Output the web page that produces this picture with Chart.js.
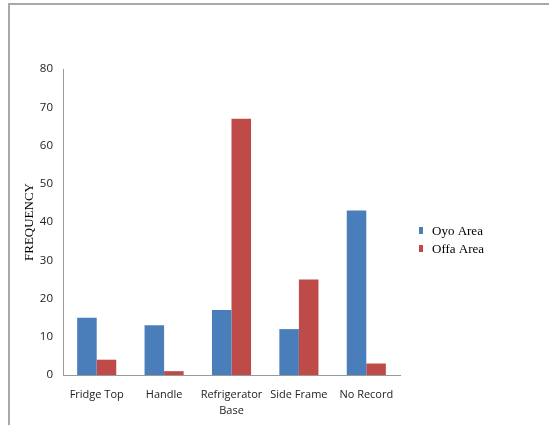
<!DOCTYPE html>
<html>
<head>
<meta charset="utf-8">
<script src="https://cdn.jsdelivr.net/npm/chart.js@4"></script>
<style>
  html, body { margin: 0; padding: 0; background: #fff; }
  #wrap { position: relative; width: 549px; height: 425px; }
  #frame { position: absolute; left: 8px; top: 3px; right: 0; bottom: 0;
           border-top: 2px solid #a8a8a8; border-left: 2px solid #a8a8a8; }
  canvas { position: absolute; left: 0; top: 0; }
</style>
</head>
<body>
<div id="wrap">
  <div id="frame"></div>
  <canvas id="myChart" width="549" height="425"></canvas>
</div>
<script>
const locations = ["Fridge Top", "Handle", ["Refrigerator", "Base"], "Side Frame", "No Record"];
const oyo = [15, 13, 17, 12, 43];
const offa = [4, 1, 67, 25, 3];
const yTicks = [0, 10, 20, 30, 40, 50, 60, 70, 80];

// small legend at the right, like the excel one
const sideLegend = {
    id: 'sideLegend',
    afterDraw(chart) {
        const ctx = chart.ctx;
        ctx.save();
        ctx.font = '13px "Liberation Serif", serif';
        ctx.textBaseline = 'middle';
        chart.data.datasets.forEach((ds, i) => {
            const y = 232 + i * 18;
            ctx.fillStyle = ds.backgroundColor;
            ctx.fillRect(419, y - 5, 4, 7);
            ctx.fillStyle = '#000';
            ctx.fillText(ds.label, 432, y);
        });
        ctx.restore();
    }
};

const ctx = document.getElementById('myChart').getContext('2d');
new Chart(ctx, {
    type: 'bar',
    data: {
        labels: locations,
        datasets: [
            { label: 'Oyo Area', data: oyo, backgroundColor: '#4a7ebb' },
            { label: 'Offa Area', data: offa, backgroundColor: '#be4b48' }
        ]
    },
    options: {
        responsive: false,
        animation: false,
        layout: { padding: { top: 69, right: 149, left: 22, bottom: 0 } },
        datasets: { bar: { categoryPercentage: 0.58, barPercentage: 1 } },
        scales: {
            x: {
                grid: { display: false, drawTicks: false },
                border: { color: '#999' },
                ticks: {
                    color: '#222',
                    font: { family: 'Open Sans', size: 11, lineHeight: 1.45 },
                    padding: 12,
                    maxRotation: 0
                },
                afterFit: (s) => { s.height = 50; }
            },
            y: {
                min: 0,
                max: 80,
                afterBuildTicks: (s) => { s.ticks = yTicks.map(v => ({ value: v })); },
                grid: { display: false, drawOnChartArea: false, drawTicks: true, tickLength: 4, color: '#999' },
                border: { color: '#999' },
                ticks: {
                    color: '#222',
                    font: { family: 'Open Sans', size: 11.5 },
                    padding: 6
                },
                title: {
                    display: true,
                    text: 'FREQUENCY',
                    color: '#000',
                    font: { family: 'Liberation Serif', size: 13 },
                    padding: { top: 0, bottom: 4 }
                },
                afterFit: (s) => { s.width = 41; }
            }
        },
        plugins: {
            legend: { display: false },
            tooltip: { enabled: false }
        }
    },
    plugins: [sideLegend]
});
</script>
</body>
</html>
